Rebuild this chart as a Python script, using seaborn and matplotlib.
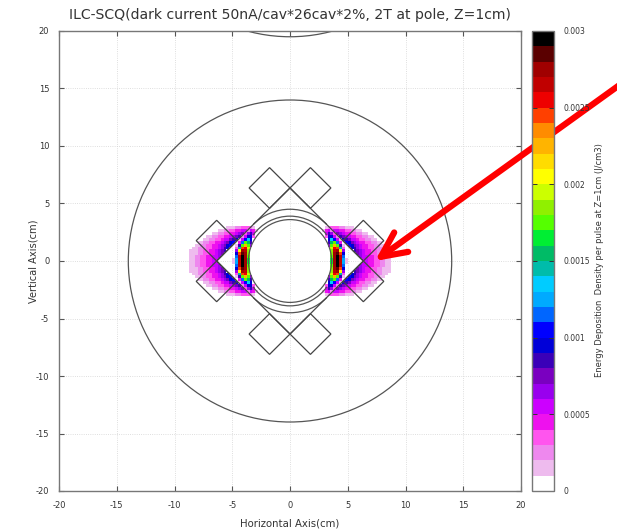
import numpy as np
import matplotlib
matplotlib.use('Agg')
import matplotlib.pyplot as plt
import seaborn as sns
from matplotlib.colors import ListedColormap
from matplotlib.patches import Circle, Arc, Polygon

# axis ticks
axis_ticks = [-20, -15, -10, -5, 0, 5, 10, 15, 20]
cbar_ticks = [0, 0.0005, 0.001, 0.0015, 0.002, 0.0025, 0.003]
cbar_labels = ['0', '0.0005', '0.001', '0.0015', '0.002', '0.0025', '0.003']

# palette bands, 0.0001 each, from 0 up to 0.003
band_colors = [
    '#ffffff', '#eebbee', '#ee88ee', '#ff55ee', '#ee11ee', '#cc00ff',
    '#9900ee', '#7a00c0', '#3a00b8', '#0000d8', '#0000ff', '#0066ff',
    '#00aaff', '#00ccff', '#00bcaa', '#00bb66', '#00ee33', '#55ff00',
    '#90f000', '#ccff00', '#ffff00', '#ffdc00', '#ffb400', '#ff8c00',
    '#ff4000', '#ee0000', '#c00000', '#a00000', '#5a0000', '#000000',
]

# deposition, band number per 0.25cm cell
# columns start at x=2.5cm, rows start at y=0 going up (mirrored in y and x)
lobe_bands = [
    [0,0,0,0,16,27,29,26,12,1,0,0,0,0,0,5,5,4,4,3,3,2,2,1,1],
    [0,0,0,0,17,27,29,26,11,0,0,0,0,0,6,5,5,4,4,3,3,2,2,1,1],
    [0,0,0,0,18,27,28,24,9,0,0,0,0,7,6,5,4,4,3,3,2,2,1,1,1],
    [0,0,0,0,18,26,27,20,6,0,0,0,8,7,6,5,4,4,3,3,2,2,1,1,1],
    [0,0,0,0,19,25,24,14,3,0,0,9,8,6,5,4,4,3,3,2,2,2,1,1,0],
    [0,0,0,6,17,22,17,8,1,0,10,9,7,6,5,4,4,3,3,2,2,1,1,0,0],
    [0,0,0,8,15,17,11,4,0,10,9,7,6,5,4,4,3,3,2,2,1,1,0,0,0],
    [0,0,0,9,13,10,5,1,9,8,7,5,5,4,3,3,2,2,1,1,0,0,0,0,0],
    [0,0,3,9,9,5,2,8,7,6,5,4,4,3,3,2,2,1,1,0,0,0,0,0,0],
    [0,0,5,8,6,3,7,6,5,4,4,3,3,2,2,1,1,0,0,0,0,0,0,0,0],
    [0,1,4,5,2,5,5,4,4,3,3,2,2,1,1,0,0,0,0,0,0,0,0,0,0],
    [0,0,1,2,3,3,3,2,2,1,1,1,0,0,0,0,0,0,0,0,0,0,0,0,0],
]

# magnet outlines (cm)
diamond_half = 6.35
square_half = 1.77
square_x = [1.77, -1.77, 1.77, -1.77, 6.35, -6.35, 6.35, -6.35]
square_y = [6.35, 6.35, -6.35, -6.35, 1.77, 1.77, -1.77, -1.77]

W, H = 617, 531
CELL = 0.25


def cx(x):
    return (np.asarray(x) + 20) / CELL


def cy(y):
    return (np.asarray(y) + 20) / CELL


# fill the whole -20..20 grid from the lobe table
n = int(40 / CELL)
field = np.zeros((n, n))
lobe = np.array(lobe_bands, dtype=float)
c0 = int(cx(2.5))
r0 = int(cy(0))
rows, cols = lobe.shape
field[r0:r0 + rows, c0:c0 + cols] = lobe
field[r0 - rows:r0, c0:c0 + cols] = lobe[::-1]
field = field + field[:, ::-1]
field = (field + 0.5) * 1e-4

plt.rcParams['font.family'] = ['DejaVu Sans']
text_col = '#333333'
line_col = '#555555'

fig = plt.figure(figsize=(W / 100, H / 100), dpi=100)
ax = fig.add_axes([59 / W, 1 - 491 / H, 462 / W, 460 / H])
cax = fig.add_axes([532 / W, 1 - 491 / H, 22 / W, 460 / H])

sns.heatmap(field, ax=ax, cbar_ax=cax, cmap=ListedColormap(band_colors),
            vmin=0, vmax=0.003, mask=field < 1e-4,
            xticklabels=False, yticklabels=False,
            cbar_kws={'ticks': cbar_ticks})
ax.set_xlim(0, n)
ax.set_ylim(0, n)

# axes in gnuplot style
ax.set_xticks(cx(axis_ticks))
ax.set_xticklabels([str(t) for t in axis_ticks])
ax.set_yticks(cy(axis_ticks))
ax.set_yticklabels([str(t) for t in axis_ticks])
ax.tick_params(direction='in', length=3.5, width=0.8, top=True, right=True,
               labelsize=6, labelcolor=text_col, color=line_col, pad=7)
ax.grid(True, linestyle=':', linewidth=0.6, color='#d4d4d4')
ax.set_axisbelow(True)
for s in ax.spines.values():
    s.set_visible(True)
    s.set_color('#777777')
    s.set_linewidth(1.0)

# beam pipe, magnet and yoke outlines
s = 1 / CELL
lw = 0.9
ax.add_patch(Circle((cx(0), cy(0)), 14 * s, fill=False, ec=line_col, lw=lw))
ax.add_patch(Circle((cx(0), cy(33.5)), 14 * s, fill=False, ec=line_col, lw=lw))
ax.add_patch(Circle((cx(0), cy(0)), 3.6 * s, fill=False, ec=line_col, lw=lw))
for a, b in [(35, 145), (215, 325)]:
    ax.add_patch(Arc((cx(0), cy(0)), 7.8 * s, 7.8 * s, theta1=a, theta2=b, ec=line_col, lw=lw))
for a, b in [(45, 135), (225, 315)]:
    ax.add_patch(Arc((cx(0), cy(0)), 9.0 * s, 9.0 * s, theta1=a, theta2=b, ec=line_col, lw=lw))

d = diamond_half
ax.add_patch(Polygon(np.c_[cx([d, 0, -d, 0]), cy([0, d, 0, -d])], fill=False, ec='#444444', lw=lw))
q = square_half
for x0, y0 in zip(square_x, square_y):
    ax.add_patch(Polygon(np.c_[cx([x0 + q, x0, x0 - q, x0]), cy([y0, y0 + q, y0, y0 - q])],
                         fill=False, ec='#444444', lw=lw))

# colorbar
cb = ax.collections[0].colorbar
cb.set_ticklabels(cbar_labels)
cb.outline.set_visible(True)
cb.outline.set_edgecolor('#777777')
cb.outline.set_linewidth(1.0)
cax.tick_params(direction='in', length=3.5, width=0.7, left=True, right=True,
                labelsize=5.5, labelcolor=text_col, color='#333333', pad=7)

# labels
fig.text(290 / W, 1 - 15 / H, 'ILC-SCQ(dark current 50nA/cav*26cav*2%, 2T at pole, Z=1cm)',
         ha='center', va='center', fontsize=10.1, color=text_col)
fig.text(290 / W, 1 - 523 / H, 'Horizontal Axis(cm)', ha='center', va='center',
         fontsize=7.3, color=text_col)
fig.text(33 / W, 1 - 261 / H, 'Vertical Axis(cm)', ha='center', va='center',
         rotation=90, fontsize=7.1, color=text_col)
fig.text(600 / W, 1 - 260 / H, 'Energy Deposition  Density per pulse at Z=1cm (J/cm3)',
         ha='center', va='center', rotation=90, fontsize=6.0, color=text_col)

# red arrow pointing at the lobe
ax.annotate('', xy=(375, H - 261), xytext=(632, H - 76),
            xycoords='figure pixels', textcoords='figure pixels',
            arrowprops=dict(arrowstyle='->,head_length=0.9,head_width=0.43',
                            mutation_scale=20, color='#ff0000', lw=4.5,
                            shrinkA=0, shrinkB=0),
            annotation_clip=False, zorder=20)

fig.savefig('out.png', dpi=100)
